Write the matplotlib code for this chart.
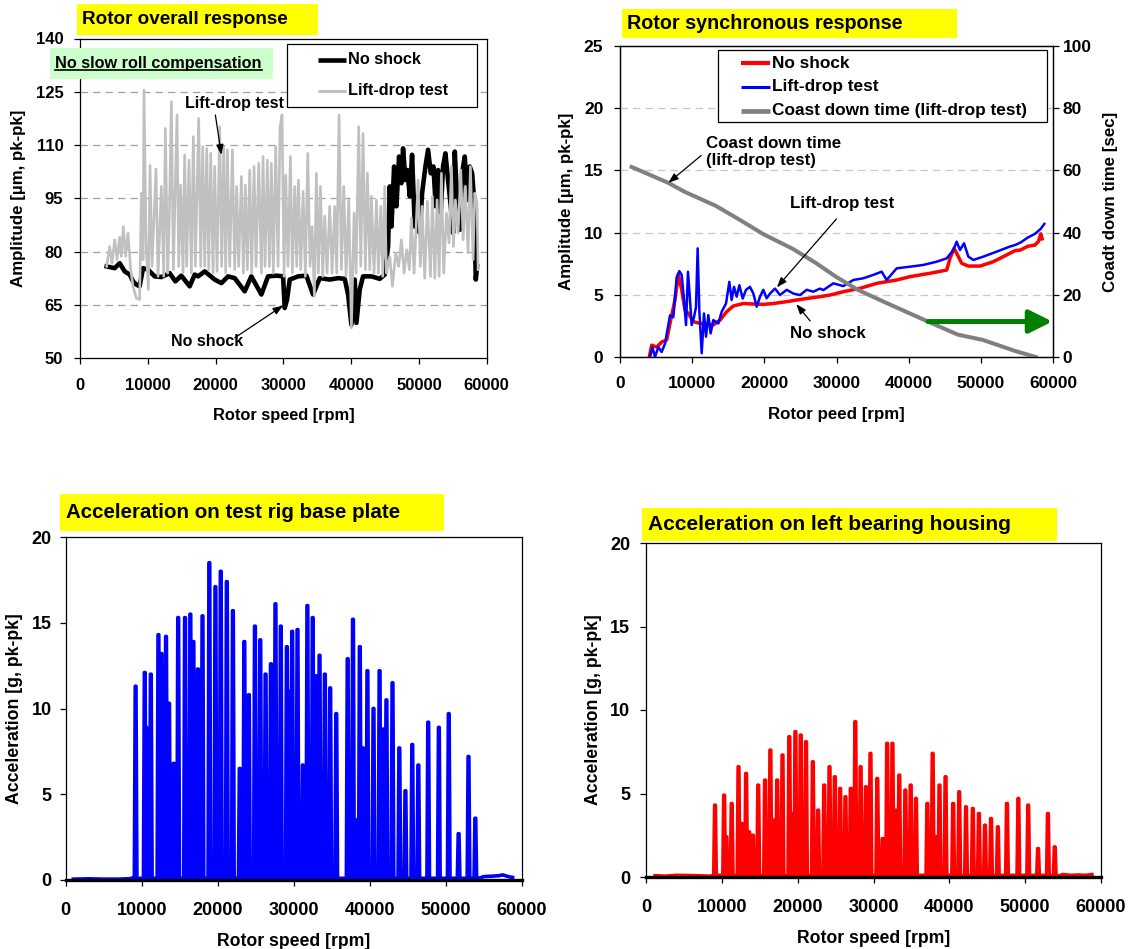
import numpy as np
import matplotlib
matplotlib.use("Agg")
import matplotlib.pyplot as plt
from matplotlib.patches import Rectangle
from matplotlib.lines import Line2D

plt.rcParams['font.family'] = ['Liberation Sans', 'DejaVu Sans']
plt.rcParams['font.weight'] = 'bold'
plt.rcParams['axes.labelweight'] = 'bold'

# ---------------- data: rotor overall response (top left) ----------------
ovr_lift_rpm = [3935, 4380, 4720, 5115, 5460, 5850, 6100, 6390, 6740, 7080, 7480, 7820, 8310, 8800,
                9050, 9300, 9440, 9740, 10080, 10330, 10620, 11210, 11510, 12000, 12350, 12590, 12940,
                13180, 13480, 13770, 14310, 14560, 14850, 15200, 15440, 15740, 16080, 16430, 16720,
                17020, 17510, 17810, 18100, 18400, 18690, 18990, 19280, 19630, 19870, 20220, 20610,
                20900, 21200, 21490, 21740, 22090, 22480, 22820, 23120, 23410, 23810, 24100, 24400,
                24690, 25040, 25330, 25680, 25970, 26370, 26760, 27000, 27300, 27640, 27940, 28230,
                28530, 28870, 29220, 29510, 29810, 30100, 30350, 30690, 31040, 31330, 31680, 31970,
                32220, 32560, 32910, 33250, 33600, 33940, 34240, 34580, 34870, 35170, 35470, 35810,
                36100, 36450, 36840, 37190, 37580, 37870, 38220, 38560, 38910, 39250, 39650, 40040,
                40430, 40730, 41120, 41420, 41760, 42100, 42400, 42750, 42990, 43380, 43730, 44020,
                44370, 44660, 44960, 45200, 45700, 46090, 46580, 47020, 47420, 47810, 48200, 48600,
                48890, 49290, 49880, 50220, 50470, 50860, 51250, 51700, 51990, 52340, 52680, 52980,
                53320, 53660, 54060, 54450, 54800, 55090, 55390, 55780, 56170, 56520, 56860, 57250,
                57600, 57990, 58240, 58580, 58730]
ovr_lift_amp = [75.9, 81.5, 76.8, 83.4, 77.8, 84.1, 78.7, 87.1, 78.7, 85.3, 75.0, 70.3, 67.0, 66.6,
                96.5, 77.8, 125.5, 82.5, 69.4, 104.3, 75.9, 103.3, 73.1, 98.4, 73.1, 114.7, 74.0,
                90.0, 122.2, 75.0, 118.5, 75.9, 98.8, 74.0, 107.3, 75.9, 105.8, 74.0, 112.4,
                75.9, 117.5, 75.9, 109.6, 75.9, 109.1, 75.0, 107.7, 74.0, 104.0, 74.5, 115.2,
                75.9, 109.6, 74.0, 108.7, 75.9, 108.7, 75.0, 98.4, 75.9, 101.2, 74.0, 98.8,
                75.0, 103.0, 74.0, 104.0, 75.9, 104.9, 74.0, 106.8, 75.9, 105.8, 75.9, 104.9,
                74.0, 109.6, 75.9, 115.2, 118.5, 73.1, 101.6, 75.9, 106.8, 74.0, 98.4, 75.9,
                100.2, 75.0, 97.0, 73.1, 107.7, 75.9, 87.1, 67.5, 102.1, 74.0, 98.4, 73.1,
                90.0, 74.0, 92.8, 74.0, 92.8, 74.0, 118.5, 75.0, 98.4, 73.1, 94.6, 58.6,
                90.9, 74.0, 115.2, 75.9, 113.3, 75.0, 102.1, 75.0, 95.6, 74.0, 94.6, 74.0,
                92.8, 73.1, 98.4, 74.0, 78.7, 70.3, 79.7, 75.9, 83.4, 74.0, 80.6, 75.0,
                89.5, 74.0, 100.2, 75.9, 92.8, 72.6, 94.2, 73.1, 95.6, 72.6, 94.6, 73.1,
                102.1, 74.0, 90.9, 82.5, 104.0, 81.5, 94.6, 85.3, 103.0, 83.4, 98.4, 79.7,
                104.0, 77.8, 96.5, 93.7, 75.0]

ovr_noshock_rpm = [3935, 5115, 5850, 6590, 7330, 7820, 8310, 8800, 9300, 10030, 11020, 12000, 13230,
                   14070, 14950, 16180, 16920, 17410, 18400, 19870, 20860, 21840, 22820, 24300, 25280,
                   26760, 27740, 28970, 29960, 30200, 30550, 30940, 32170, 33400, 34380, 35370, 36840,
                   38070, 39060, 39550, 40040, 40530, 40780, 41270, 41760, 42990, 44220, 44960, 45450,
                   45700, 45950, 46340, 46680, 47070, 47420, 47660, 48010, 48300, 48650, 48990, 49390,
                   49780, 50120, 50470, 50960, 51350, 51750, 52140, 52480, 52830, 53220, 53560, 53910,
                   54300, 54700, 55040, 55290, 55630, 56030, 56370, 56760, 57150, 57500, 57850, 58140,
                   58390, 58580]
ovr_noshock_amp = [75.9, 75.4, 76.8, 74.5, 73.6, 71.7, 70.8, 70.3, 75.4, 75.0, 73.1, 72.9, 74.0,
                   71.7, 73.3, 70.3, 73.6, 73.1, 74.5, 72.2, 71.2, 73.1, 72.6, 68.9, 73.1,
                   68.0, 73.1, 73.3, 73.1, 64.2, 66.6, 72.2, 73.1, 73.3, 68.0, 72.6, 72.2,
                   72.6, 72.4, 68.0, 59.5, 72.2, 60.0, 69.4, 73.1, 73.1, 72.4, 73.6, 81.5,
                   98.4, 87.1, 104.0, 92.8, 106.8, 99.3, 109.1, 100.2, 103.0, 95.6, 107.3, 87.1,
                   95.6, 85.3, 96.5, 104.0, 108.7, 102.1, 104.0, 92.8, 103.0, 90.9, 104.0, 107.7,
                   100.2, 92.8, 85.3, 108.2, 94.6, 86.2, 102.1, 106.8, 94.6, 104.0, 102.1, 94.6,
                   72.2, 75.9]

# ---------------- data: rotor synchronous response (top right) ----------------
syn_noshock_rpm = [4065, 4390, 5080, 5770, 6470, 6930, 7620, 8080, 8550, 9000, 9470, 10160, 11090,
                   12000, 12930, 13860, 14780, 15700, 17090, 18480, 19860, 21250, 23100, 24480,
                   25870, 27710, 29100, 30950, 33260, 35570, 38340, 40190, 42960, 45270, 45730,
                   46280, 46650, 47350, 48270, 49890, 51730, 54040, 54740, 55500, 56500, 57500,
                   58000, 58300, 58500]
syn_noshock_amp = [0.0, 0.95, 0.8, 1.2, 1.37, 2.7, 4.6, 6.6, 5.4, 3.77, 3.5, 2.84, 2.7,
                   2.66, 2.58, 2.97, 3.64, 4.1, 4.3, 4.26, 4.23, 4.3, 4.45, 4.58,
                   4.7, 4.85, 4.98, 5.25, 5.52, 5.92, 6.19, 6.46, 6.73, 6.99, 7.93,
                   8.74, 8.34, 7.53, 7.31, 7.31, 7.66, 8.34, 8.55, 8.6, 8.9, 9.0,
                   9.3, 9.9, 9.5]

syn_lift_rpm = [4160, 4480, 4850, 5310, 5770, 6240, 6930, 7390, 7850, 8220, 8550, 8870, 9150, 9420,
                9700, 9930, 10250, 10530, 10760, 10990, 11320, 11640, 11920, 12240, 12560, 12930,
                13630, 14090, 14690, 15150, 15470, 15800, 16170, 16540, 17000, 17460, 18010, 18480,
                18940, 19400, 19860, 20320, 20790, 21480, 22170, 23100, 24020, 24940, 25870, 26790,
                27710, 28180, 29560, 30950, 32330, 33720, 35100, 36260, 36950, 38340, 40190, 42030,
                43880, 45270, 46190, 46650, 47110, 47670, 48270, 48960, 50350, 52200, 54040, 54740,
                55500, 56500, 57500, 58300, 58800]
syn_lift_amp = [0.0, 0.8, 0.0, 0.8, 0.4, 1.07, 3.35, 3.2, 6.4, 6.9, 6.6, 4.6, 2.57, 6.85,
                4.6, 2.57, 3.2, 4.0, 8.73, 3.78, 0.3, 3.5, 1.63, 3.37, 1.9, 2.97,
                2.7, 3.64, 4.3, 6.04, 4.58, 5.64, 4.85, 5.77, 4.7, 5.4, 5.64, 5.1,
                4.04, 4.85, 5.4, 4.72, 5.1, 5.5, 4.98, 5.4, 5.1, 4.98, 5.4, 5.25,
                5.5, 5.38, 5.92, 5.7, 6.19, 6.33, 6.6, 6.86, 6.19, 7.13, 7.26, 7.4,
                7.66, 7.93, 8.6, 9.27, 8.6, 9.14, 8.07, 7.8, 8.07, 8.47, 8.88, 9.0,
                9.2, 9.6, 9.9, 10.3, 10.7]

coast_rpm = [1620, 6690, 8970, 13280, 16820, 19860, 23920, 26960, 30000, 33040, 37090, 42670,
             46800, 50270, 54800, 57620]
coast_sec = [61.1, 56.0, 53.1, 48.6, 43.8, 39.5, 34.8, 30.5, 25.7, 21.5, 17.2, 11.4,
             7.2, 5.5, 1.9, 0.0]

# ---------------- data: accelerations (bottom) ----------------
base_rpm_x = [9200, 10400, 10600, 11200, 12200, 12600, 13200, 13600, 14200, 14800, 15700, 16400,
              16800, 17400, 18000, 18900, 19700, 20400, 21200, 22000, 22900, 23500, 24100, 24900,
              25600, 26300, 27000, 27600, 27900, 28300, 29100, 29400, 29800, 30500, 31200, 31500,
              31800, 32500, 32900, 33400, 34100, 34800, 35600, 37100, 37800, 38300, 38700, 39100,
              39700, 40500, 41300, 41700, 42200, 43000, 43900, 44700, 45600, 46400, 47700, 49100,
              50400, 51700, 53000, 53900]
base_acc = [11.3, 12.1, 8.9, 12.0, 14.3, 13.2, 14.2, 10.3, 6.8, 15.3, 15.3, 15.5,
            13.9, 12.3, 15.4, 18.5, 17.1, 18.0, 17.4, 15.7, 6.5, 13.9, 10.8, 14.8,
            14.0, 12.0, 12.6, 16.1, 5.8, 14.8, 13.6, 11.0, 14.5, 14.6, 6.7, 5.8,
            16.0, 15.3, 11.9, 13.1, 12.0, 11.2, 9.7, 12.9, 15.2, 3.5, 13.6, 7.7,
            12.2, 10.0, 12.2, 8.8, 10.5, 11.5, 7.7, 5.2, 7.9, 6.7, 9.2, 8.9,
            9.7, 2.7, 7.2, 3.6]
base_pre_rpm, base_pre_acc = [1000, 3000, 5000, 7000, 8500, 9000], [0.05, 0.07, 0.05, 0.05, 0.08, 0.15]
base_post_rpm = [54400, 55000, 56000, 57000, 57500, 58200, 58800]
base_post_acc = [0.1, 0.2, 0.22, 0.25, 0.3, 0.2, 0.15]

brg_rpm_x = [9100, 10300, 10600, 11300, 12200, 12600, 13200, 13600, 14100, 14800, 15700, 16400,
             16800, 17300, 18000, 18900, 19200, 19700, 20400, 21100, 22000, 22700, 23500, 24200,
             24900, 25600, 26300, 27000, 27600, 28300, 29000, 29600, 30500, 31200, 31800, 32500,
             32900, 33400, 34200, 34900, 35600, 37100, 37800, 38200, 38700, 39500, 40500, 41300,
             42200, 43100, 43900, 44700, 45500, 46400, 47600, 49100, 50400, 51700, 53000, 53900]
brg_acc = [4.3, 4.9, 2.4, 4.4, 6.6, 3.2, 6.2, 2.7, 2.5, 5.5, 5.8, 7.6,
           3.4, 5.8, 7.3, 8.4, 3.8, 8.7, 8.5, 8.1, 6.9, 4.0, 5.5, 6.6,
           6.0, 5.3, 4.8, 5.3, 9.3, 6.6, 5.4, 7.4, 5.9, 2.3, 8.0, 8.0,
           4.0, 6.1, 5.2, 5.5, 4.7, 4.4, 7.4, 2.4, 5.5, 6.0, 4.4, 5.1,
           4.2, 4.1, 3.8, 3.1, 3.5, 3.0, 4.4, 4.7, 4.3, 1.7, 3.8, 1.8]
brg_pre_rpm, brg_pre_acc = [1200, 2500, 4000, 6500, 8500, 9000], [0.08, 0.05, 0.1, 0.08, 0.05, 0.1]
brg_post_rpm = [54300, 55000, 56000, 57000, 58000, 58800]
brg_post_acc = [0.05, 0.15, 0.1, 0.12, 0.1, 0.15]

W, H = 1130, 949
fig = plt.figure(figsize=(W / 100, H / 100), dpi=100)


def fx(x):
    return x / W


def fy(y):
    return 1 - y / H


def px_axes(x0, y0, x1, y1):
    return fig.add_axes([fx(x0), fy(y1), (x1 - x0) / W, (y1 - y0) / H])


def box_text(x0, y0, x1, y1, text, color, tx, size):
    fig.add_artist(Rectangle((fx(x0), fy(y1)), (x1 - x0) / W, (y1 - y0) / H,
                             transform=fig.transFigure, facecolor=color, edgecolor='none'))
    return fig.text(fx(tx), fy((y0 + y1) / 2), text, ha='left', va='center',
                    fontsize=size, weight='bold')


def style_axes(ax, size, xpad, ypad):
    for s in ax.spines.values():
        s.set_color('black')
        s.set_linewidth(0.9)
    ax.tick_params(direction='out', length=4, width=0.9, labelsize=size)
    ax.tick_params(axis='x', pad=xpad)
    ax.tick_params(axis='y', pad=ypad)
    for lab in ax.get_xticklabels() + ax.get_yticklabels():
        lab.set_fontweight('bold')


def manual_legend(x0, y0, x1, y1, entries, lx0, lx1, tx, size):
    fig.add_artist(Rectangle((fx(x0), fy(y1)), (x1 - x0) / W, (y1 - y0) / H,
                             transform=fig.transFigure, facecolor='white',
                             edgecolor='black', lw=0.9))
    for yy, color, lw, label in entries:
        fig.add_artist(Line2D([fx(lx0), fx(lx1)], [fy(yy), fy(yy)], color=color, lw=lw,
                              transform=fig.transFigure, solid_capstyle='butt'))
        fig.text(fx(tx), fy(yy), label, ha='left', va='center', fontsize=size, weight='bold')


def spike_trace(pre_x, pre_y, peak_x, peak_y, post_x, post_y, floor=0.1, half=170, top=50):
    xs, ys = list(pre_x), list(pre_y)
    for p, h in zip(peak_x, peak_y):
        xs += [p - half, p - top, p + top, p + half]
        ys += [floor, h, h, floor]
    return xs + list(post_x), ys + list(post_y)


def note_arrow(ax, xy, xytext):
    ax.annotate('', xy=xy, xytext=xytext,
                arrowprops=dict(arrowstyle='-|>,head_length=0.6,head_width=0.22',
                                color='black', lw=0.9, shrinkA=0, shrinkB=0))


# ---------------- top left ----------------
ax1 = px_axes(80, 38.5, 486.7, 358.5)
ax1.plot(ovr_noshock_rpm, ovr_noshock_amp, color='black', lw=3.3)
ax1.plot(ovr_lift_rpm, ovr_lift_amp, color='#c0c0c0', lw=1.9)
ax1.set_xlim(0, 60000)
ax1.set_ylim(50, 140)
ax1.set_xticks(range(0, 60001, 10000))
ax1.set_yticks(range(50, 141, 15))
for v in range(65, 126, 15):
    ax1.axhline(v, color='#a0a0a0', lw=0.9, ls=(0, (6, 4)), zorder=0)
ax1.set_xlabel('Rotor speed [rpm]', fontsize=11.8, labelpad=11)
ax1.set_ylabel('Amplitude [µm, pk-pk]', fontsize=12.2, labelpad=7)
style_axes(ax1, 12, 10, 8)
ax1.text(22780, 121.6, 'Lift-drop test', ha='center', va='center', fontsize=11.5)
note_arrow(ax1, (20860, 107.3), (19970, 118.5))
ax1.text(18690, 54.9, 'No shock', ha='center', va='center', fontsize=11.5)
note_arrow(ax1, (29960, 64.9), (22820, 55.8))

manual_legend(287, 44, 477, 107,
              [(60, 'black', 3.3, 'No shock'), (91, '#c0c0c0', 2.2, 'Lift-drop test')],
              318, 346, 348, 11.7)
box_text(77, 4, 318, 35, 'Rotor overall response', '#ffff00', 82, 13.6)
t_roll = box_text(50, 48, 273, 79, 'No slow roll compensation', '#ccffcc', 55, 11.7)

# ---------------- top right ----------------
ax2 = px_axes(620, 46, 1053, 357)
ax2.plot(syn_noshock_rpm, syn_noshock_amp, color='#ff0000', lw=2.5)
ax2.plot(syn_lift_rpm, syn_lift_amp, color='#0000ff', lw=1.8)
ax2.set_xlim(0, 60000)
ax2.set_ylim(0, 25)
ax2.set_xticks(range(0, 60001, 10000))
ax2.set_yticks(range(0, 26, 5))
for v in range(5, 21, 5):
    ax2.axhline(v, color='#c8c8c8', lw=0.9, ls=(0, (6, 4)), zorder=0)
ax2.set_xlabel('Rotor peed [rpm]', fontsize=12.2, labelpad=11)
ax2.set_ylabel('Amplitude [µm, pk-pk]', fontsize=12.2, labelpad=7)
style_axes(ax2, 12.5, 10, 8)
ax2r = ax2.twinx()
ax2r.plot(coast_rpm, coast_sec, color='#808080', lw=2.9)
ax2r.set_ylim(0, 100)
ax2r.set_yticks(range(0, 101, 20))
ax2r.set_ylabel('Coadt down time [sec]', fontsize=12.2, labelpad=8)
style_axes(ax2r, 12.5, 10, 3)
ax2.text(11900, 16.45, 'Coast down time\n(lift-drop test)', ha='left', va='center',
         fontsize=12.2, linespacing=1.15, zorder=5)
note_arrow(ax2r, (6700, 56.0), (11250, 64.8))
ax2.text(30750, 12.35, 'Lift-drop test', ha='center', va='center', fontsize=12.2)
note_arrow(ax2r, (21740, 22.4), (30000, 44.4))
ax2.text(28780, 1.9, 'No shock', ha='center', va='center', fontsize=12.2)
note_arrow(ax2r, (24430, 17.0), (26350, 11.6))
ax2r.annotate('', xy=(59900, 11.4), xytext=(42700, 11.4), annotation_clip=False,
              arrowprops=dict(arrowstyle='-|>,head_length=1.4,head_width=0.7',
                              color='#008000', lw=3.6, shrinkA=0, shrinkB=0,
                              mutation_scale=10))
manual_legend(718, 49.6, 1047, 122.3,
              [(63.2, '#ff0000', 3.0, 'No shock'), (87, '#0000ff', 2.2, 'Lift-drop test'),
               (110.8, '#808080', 3.4, 'Coast down time (lift-drop test)')],
              741, 770, 772, 12.4)
box_text(622, 9, 957, 38, 'Rotor synchronous response', '#ffff00', 627, 14.2)

# ---------------- bottom left ----------------
ax3 = px_axes(65.7, 537, 521.7, 880)
bx, by = spike_trace(base_pre_rpm, base_pre_acc, base_rpm_x, base_acc, base_post_rpm, base_post_acc)
ax3.plot(bx, by, color='#0000ff', lw=2.6)
ax3.set_xlim(0, 60000)
ax3.set_ylim(0, 20)
ax3.set_xticks(range(0, 60001, 10000))
ax3.set_yticks(range(0, 21, 5))
ax3.set_xlabel('Rotor speed [rpm]', fontsize=12.7, labelpad=10)
ax3.set_ylabel('Acceleration [g, pk-pk]', fontsize=12.7, labelpad=6)
style_axes(ax3, 13, 12, 6)
ax3.spines['bottom'].set_linewidth(2.4)
box_text(60, 494, 444, 531, 'Acceleration on test rig base plate', '#ffff00', 66, 14.8)

# ---------------- bottom right ----------------
ax4 = px_axes(646, 543, 1101, 877)
rx, ry = spike_trace(brg_pre_rpm, brg_pre_acc, brg_rpm_x, brg_acc, brg_post_rpm, brg_post_acc)
ax4.plot(rx, ry, color='#ff0000', lw=2.6)
ax4.set_xlim(0, 60000)
ax4.set_ylim(0, 20)
ax4.set_xticks(range(0, 60001, 10000))
ax4.set_yticks(range(0, 21, 5))
ax4.set_xlabel('Rotor speed [rpm]', fontsize=12.7, labelpad=10)
ax4.set_ylabel('Acceleration [g, pk-pk]', fontsize=12.7, labelpad=6)
style_axes(ax4, 13, 12, 7.5)
ax4.spines['bottom'].set_linewidth(2.4)
box_text(642, 508, 1057, 541, 'Acceleration on left bearing housing', '#ffff00', 648, 15)

# underline for the slow roll note
fig.canvas.draw()
bb = t_roll.get_window_extent().transformed(fig.transFigure.inverted())
fig.add_artist(Line2D([bb.x0, bb.x1], [bb.y0 + 0.001, bb.y0 + 0.001], color='black',
                      lw=1.2, transform=fig.transFigure))

fig.savefig('out.png', dpi=100)
